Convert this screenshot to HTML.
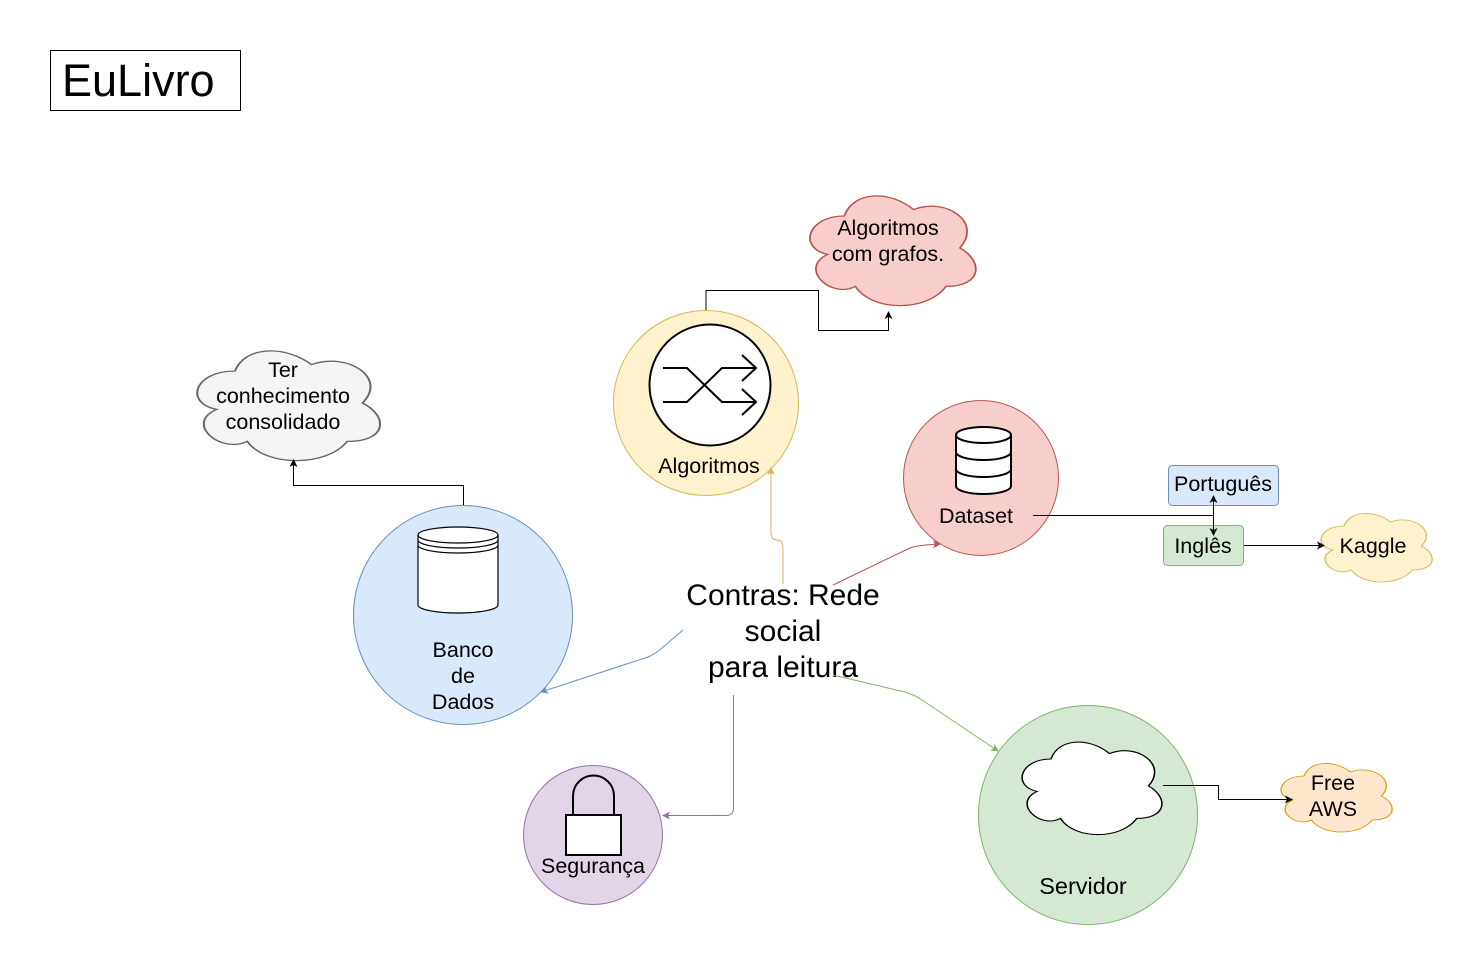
<!DOCTYPE html>
<html><head><meta charset="utf-8"><style>
html,body{margin:0;padding:0;background:#fff}
svg{display:block;font-family:"Liberation Sans",sans-serif}
</style></head><body>
<svg width="1484" height="976" viewBox="0 0 1484 976" xmlns="http://www.w3.org/2000/svg">
<defs>
<path id="cl" d="M25,25 C5,25 0,50 16,55 C0,66 18,90 31,80 C40,100 70,100 80,80 C100,80 100,60 87.5,50 C100,30 80,10 62.5,20 C50,5 30,5 25,25 Z"/>
<marker id="mk" markerWidth="8" markerHeight="8" refX="7" refY="4" orient="auto" markerUnits="userSpaceOnUse"><path d="M0,0 L8,4 L0,8 L2,4Z" fill="#000"/></marker>
<marker id="my" markerWidth="8" markerHeight="8" refX="7" refY="4" orient="auto" markerUnits="userSpaceOnUse"><path d="M0,0 L8,4 L0,8 L2,4Z" fill="#d6b656"/></marker>
<marker id="mr" markerWidth="8" markerHeight="8" refX="7" refY="4" orient="auto" markerUnits="userSpaceOnUse"><path d="M0,0 L8,4 L0,8 L2,4Z" fill="#b85450"/></marker>
<marker id="mb" markerWidth="8" markerHeight="8" refX="7" refY="4" orient="auto" markerUnits="userSpaceOnUse"><path d="M0,0 L8,4 L0,8 L2,4Z" fill="#6c8ebf"/></marker>
<marker id="mp" markerWidth="8" markerHeight="8" refX="7" refY="4" orient="auto" markerUnits="userSpaceOnUse"><path d="M0,0 L8,4 L0,8 L2,4Z" fill="#9673a6"/></marker>
<marker id="mg" markerWidth="8" markerHeight="8" refX="7" refY="4" orient="auto" markerUnits="userSpaceOnUse"><path d="M0,0 L8,4 L0,8 L2,4Z" fill="#82b366"/></marker>
</defs>

<rect x="50.5" y="50.5" width="190" height="60" fill="#fff" stroke="#000"/>
<text x="62" y="96" font-size="45">EuLivro</text>

<!-- clouds -->
<svg x="798" y="184" width="185" height="128" viewBox="0 0 100 100" preserveAspectRatio="none" overflow="visible"><use href="#cl" fill="#f8cecc" stroke="#b85450" vector-effect="non-scaling-stroke"/></svg>
<text x="888" y="235" font-size="21.5" text-anchor="middle">Algoritmos</text>
<text x="888" y="261" font-size="21.5" text-anchor="middle">com grafos.</text>

<svg x="184" y="339" width="204" height="128" viewBox="0 0 100 100" preserveAspectRatio="none" overflow="visible"><use href="#cl" fill="#f5f5f5" stroke="#666" vector-effect="non-scaling-stroke"/></svg>
<text x="283" y="377" font-size="21.5" text-anchor="middle">Ter</text>
<text x="283" y="403" font-size="21.5" text-anchor="middle">conhecimento</text>
<text x="283" y="429" font-size="21.5" text-anchor="middle">consolidado</text>

<svg x="1313" y="506" width="124" height="80" viewBox="0 0 100 100" preserveAspectRatio="none" overflow="visible"><use href="#cl" fill="#fff2cc" stroke="#d6b656" vector-effect="non-scaling-stroke"/></svg>
<text x="1373" y="553" font-size="21.5" text-anchor="middle">Kaggle</text>

<svg x="1273" y="756" width="124" height="80" viewBox="0 0 100 100" preserveAspectRatio="none" overflow="visible"><use href="#cl" fill="#ffe6cc" stroke="#d79b00" vector-effect="non-scaling-stroke"/></svg>
<text x="1333" y="790" font-size="21.5" text-anchor="middle">Free</text>
<text x="1333" y="816" font-size="21.5" text-anchor="middle">AWS</text>

<!-- circles -->
<circle cx="706" cy="403" r="92.5" fill="#fff2cc" stroke="#d6b656"/>
<circle cx="710" cy="385" r="60.5" fill="#fff" stroke="#000" stroke-width="2"/>
<g fill="none" stroke="#000" stroke-width="2">
<path d="M663,368 H687 L722,402 H756 M663,402 H687 L722,368 H756 M742,355 L756,368 L742,381 M742,389 L756,402 L742,415"/>
</g>
<text x="709" y="473" font-size="21.5" text-anchor="middle">Algoritmos</text>

<circle cx="981" cy="478" r="77.5" fill="#f8cecc" stroke="#b85450"/>
<g fill="#fff" stroke="#000" stroke-width="2">
<path d="M956,435 V486 A27.5,8 0 0 0 1011,486 V435"/>
<ellipse cx="983.5" cy="435" rx="27.5" ry="8"/>
<path d="M956,452 A27.5,8 0 0 0 1011,452 M956,469 A27.5,8 0 0 0 1011,469" fill="none"/>
</g>
<text x="976" y="523" font-size="21.5" text-anchor="middle">Dataset</text>

<circle cx="463" cy="615" r="109.5" fill="#dae8fc" stroke="#6c8ebf"/>
<g fill="#fff" stroke="#000" stroke-width="1.2">
<path d="M418,535 V605 A40,8 0 0 0 498,605 V535"/>
<ellipse cx="458" cy="535" rx="40" ry="8"/>
<path d="M418,540 A40,8 0 0 0 498,540 M418,545 A40,8 0 0 0 498,545" fill="none"/>
</g>
<text x="463" y="657" font-size="21.5" text-anchor="middle">Banco</text>
<text x="463" y="683" font-size="21.5" text-anchor="middle">de</text>
<text x="463" y="709" font-size="21.5" text-anchor="middle">Dados</text>

<circle cx="593" cy="835" r="69.5" fill="#e1d5e7" stroke="#9673a6"/>
<path d="M573,815 V796 A20.5,20.5 0 0 1 614,796 V815" fill="none" stroke="#000" stroke-width="2"/>
<rect x="566" y="815" width="55" height="40" fill="#fff" stroke="#000" stroke-width="2"/>
<text x="593" y="873" font-size="21.5" text-anchor="middle">Segurança</text>

<circle cx="1088" cy="815" r="109.5" fill="#d5e8d4" stroke="#82b366"/>
<svg x="1012" y="732" width="156" height="108" viewBox="0 0 100 100" preserveAspectRatio="none" overflow="visible"><use href="#cl" fill="#fff" stroke="#000" vector-effect="non-scaling-stroke"/></svg>
<text x="1083" y="894" font-size="23.5" text-anchor="middle">Servidor</text>

<!-- boxes -->
<rect x="1168.5" y="465.5" width="110" height="40" rx="4" fill="#dae8fc" stroke="#6c8ebf"/>
<text x="1223" y="491" font-size="21.5" text-anchor="middle">Português</text>
<rect x="1163.5" y="525.5" width="80" height="40" rx="4" fill="#d5e8d4" stroke="#82b366"/>
<text x="1203" y="553" font-size="21.5" text-anchor="middle">Inglês</text>

<!-- center text -->
<text x="783" y="605" font-size="30" text-anchor="middle">Contras: Rede</text>
<text x="783" y="641" font-size="30" text-anchor="middle">social</text>
<text x="783" y="677" font-size="30" text-anchor="middle">para leitura</text>

<!-- edges -->
<g fill="none" stroke-width="1">
<path d="M706,310 V290.5 H818.5 V330.5 H888.5 V312" stroke="#000" marker-end="url(#mk)"/>
<path d="M463.5,505 V485.5 H293.5 V460" stroke="#000" marker-end="url(#mk)"/>
<path d="M783,584 V548 Q783,540 777,540 Q771,540 771,532 V468" stroke="#d6b656" marker-end="url(#my)"/>
<path d="M833,585 L910,548 Q918,545 940,544" stroke="#b85450" marker-end="url(#mr)"/>
<path d="M683,630 L662,648 Q655,654 648,657 L541,692" stroke="#6c8ebf" marker-end="url(#mb)"/>
<path d="M733.5,695 V808 Q733.5,815.5 726,815.5 H663" stroke="#9673a6" marker-end="url(#mp)"/>
<path d="M833,675 L905,692 Q915,695 922,700 L998,751" stroke="#82b366" marker-end="url(#mg)"/>
<path d="M1033,515.5 H1213.5" stroke="#000"/>
<path d="M1213.5,515.5 V496" stroke="#000" marker-end="url(#mk)"/>
<path d="M1213.5,515.5 V535" stroke="#000" marker-end="url(#mk)"/>
<path d="M1244,545.5 H1324" stroke="#000" marker-end="url(#mk)"/>
<path d="M1163,785.5 H1218.5 V799.5 H1292" stroke="#000" marker-end="url(#mk)"/>
</g>
</svg>
</body></html>
